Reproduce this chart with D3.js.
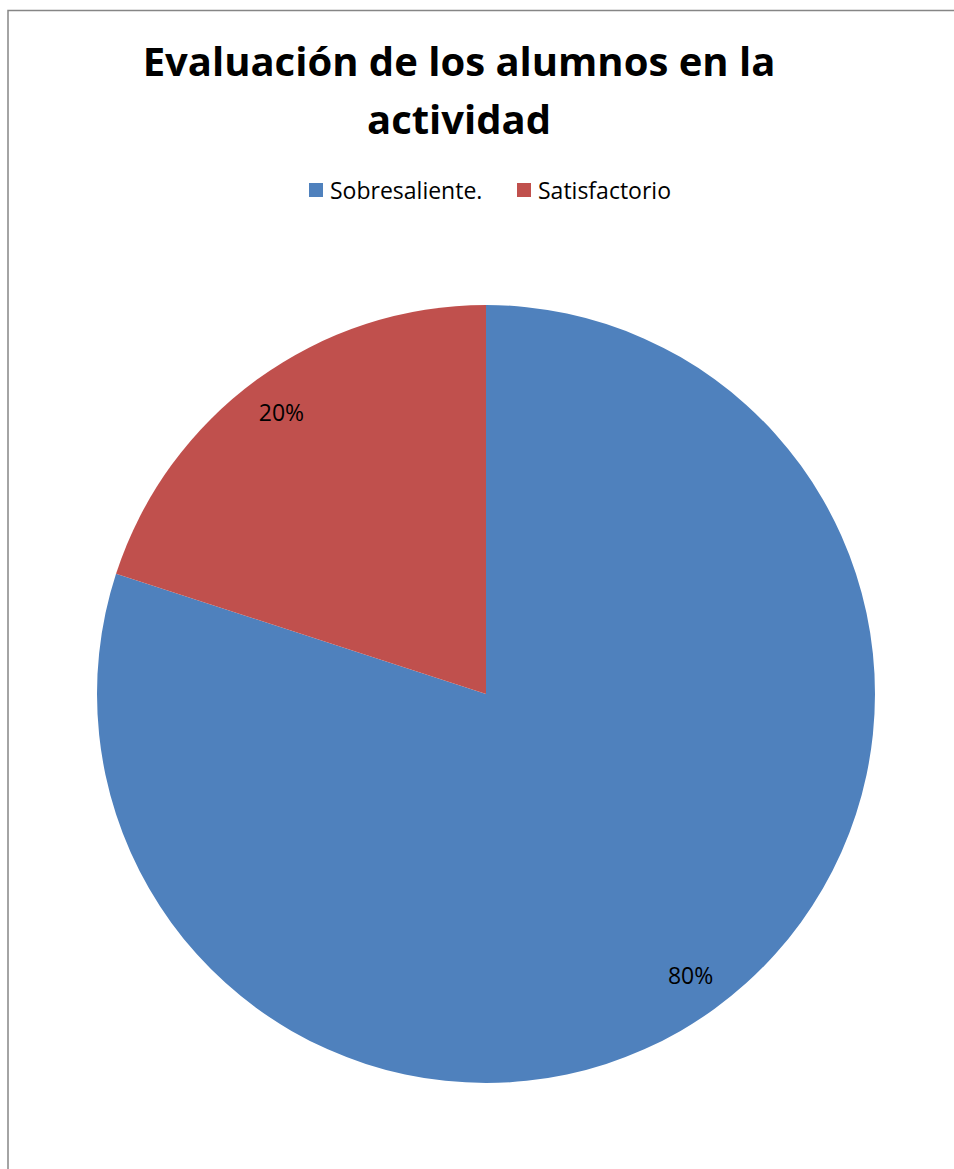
<!DOCTYPE html>
<html>
<head>
<meta charset="utf-8">
<script src="https://cdn.jsdelivr.net/npm/d3@7"></script>
<style>
  html, body { margin: 0; padding: 0; background: #fff; }
  svg { display: block; }
</style>
</head>
<body>
<div id="chart"></div>
<script>
const TITLE_LINES = ["Evaluación de los alumnos en la", "actividad"]
const CATEGORIES = ["Sobresaliente.", "Satisfactorio"]
const VALUES = [80, 20]
const LABELS = ["80%", "20%"]
const COLORS = ["#4F81BD", "#C0504D"]

const width = 954
const height = 1169
const font = "'Open Sans', Lato, sans-serif"

const svg = d3.select("#chart")
  .append("svg")
  .attr("width", width)
  .attr("height", height)
  .style("font-family", font)

// chart area border (cut off at right and bottom)
svg.append("rect")
  .attr("x", 8)
  .attr("y", 10.5)
  .attr("width", width + 10)
  .attr("height", height + 10)
  .attr("fill", "#fff")
  .attr("stroke", "#868686")
  .attr("stroke-width", 1.5)

// Title
svg.selectAll(".title")
  .data(TITLE_LINES)
  .enter()
  .append("text")
  .attr("class", "title")
  .attr("x", 459)
  .attr("y", (_, i) => 76 + i * 58)
  .attr("text-anchor", "middle")
  .attr("font-size", 40)
  .attr("font-weight", 700)
  .attr("fill", "#000")
  .text(d => d)

// Legend
const legendX = d3.scalePoint().domain(CATEGORIES).range([309, 517])
const legend = svg.selectAll(".legend")
  .data(CATEGORIES)
  .enter()
  .append("g")
  .attr("class", "legend")
  .attr("transform", d => `translate(${legendX(d)},183)`)

legend.append("rect")
  .attr("width", 14)
  .attr("height", 14)
  .attr("fill", (_, i) => COLORS[i])

legend.append("text")
  .attr("x", 21)
  .attr("y", 16)
  .attr("font-size", 23)
  .attr("fill", "#000")
  .text(d => d)

// Pie: first slice starts at 12 o'clock and runs clockwise
const cx = 486
const cy = 694
const radius = 389

const pie = d3.pie().sort(null).value(d => d)
const arcs = pie(VALUES)
const arc = d3.arc().innerRadius(0).outerRadius(radius)
const labelArc = d3.arc().innerRadius(348).outerRadius(348)

const g = svg.append("g").attr("transform", `translate(${cx},${cy})`)

g.selectAll(".slice")
  .data(arcs)
  .enter()
  .append("path")
  .attr("class", "slice")
  .attr("d", arc)
  .attr("fill", (_, i) => COLORS[i])

g.selectAll(".slice-label")
  .data(arcs)
  .enter()
  .append("text")
  .attr("class", "slice-label")
  .attr("transform", d => `translate(${labelArc.centroid(d)})`)
  .attr("text-anchor", "middle")
  .attr("dy", "0.35em")
  .attr("font-size", 23)
  .attr("fill", "#000")
  .text((_, i) => LABELS[i])
</script>
</body>
</html>
